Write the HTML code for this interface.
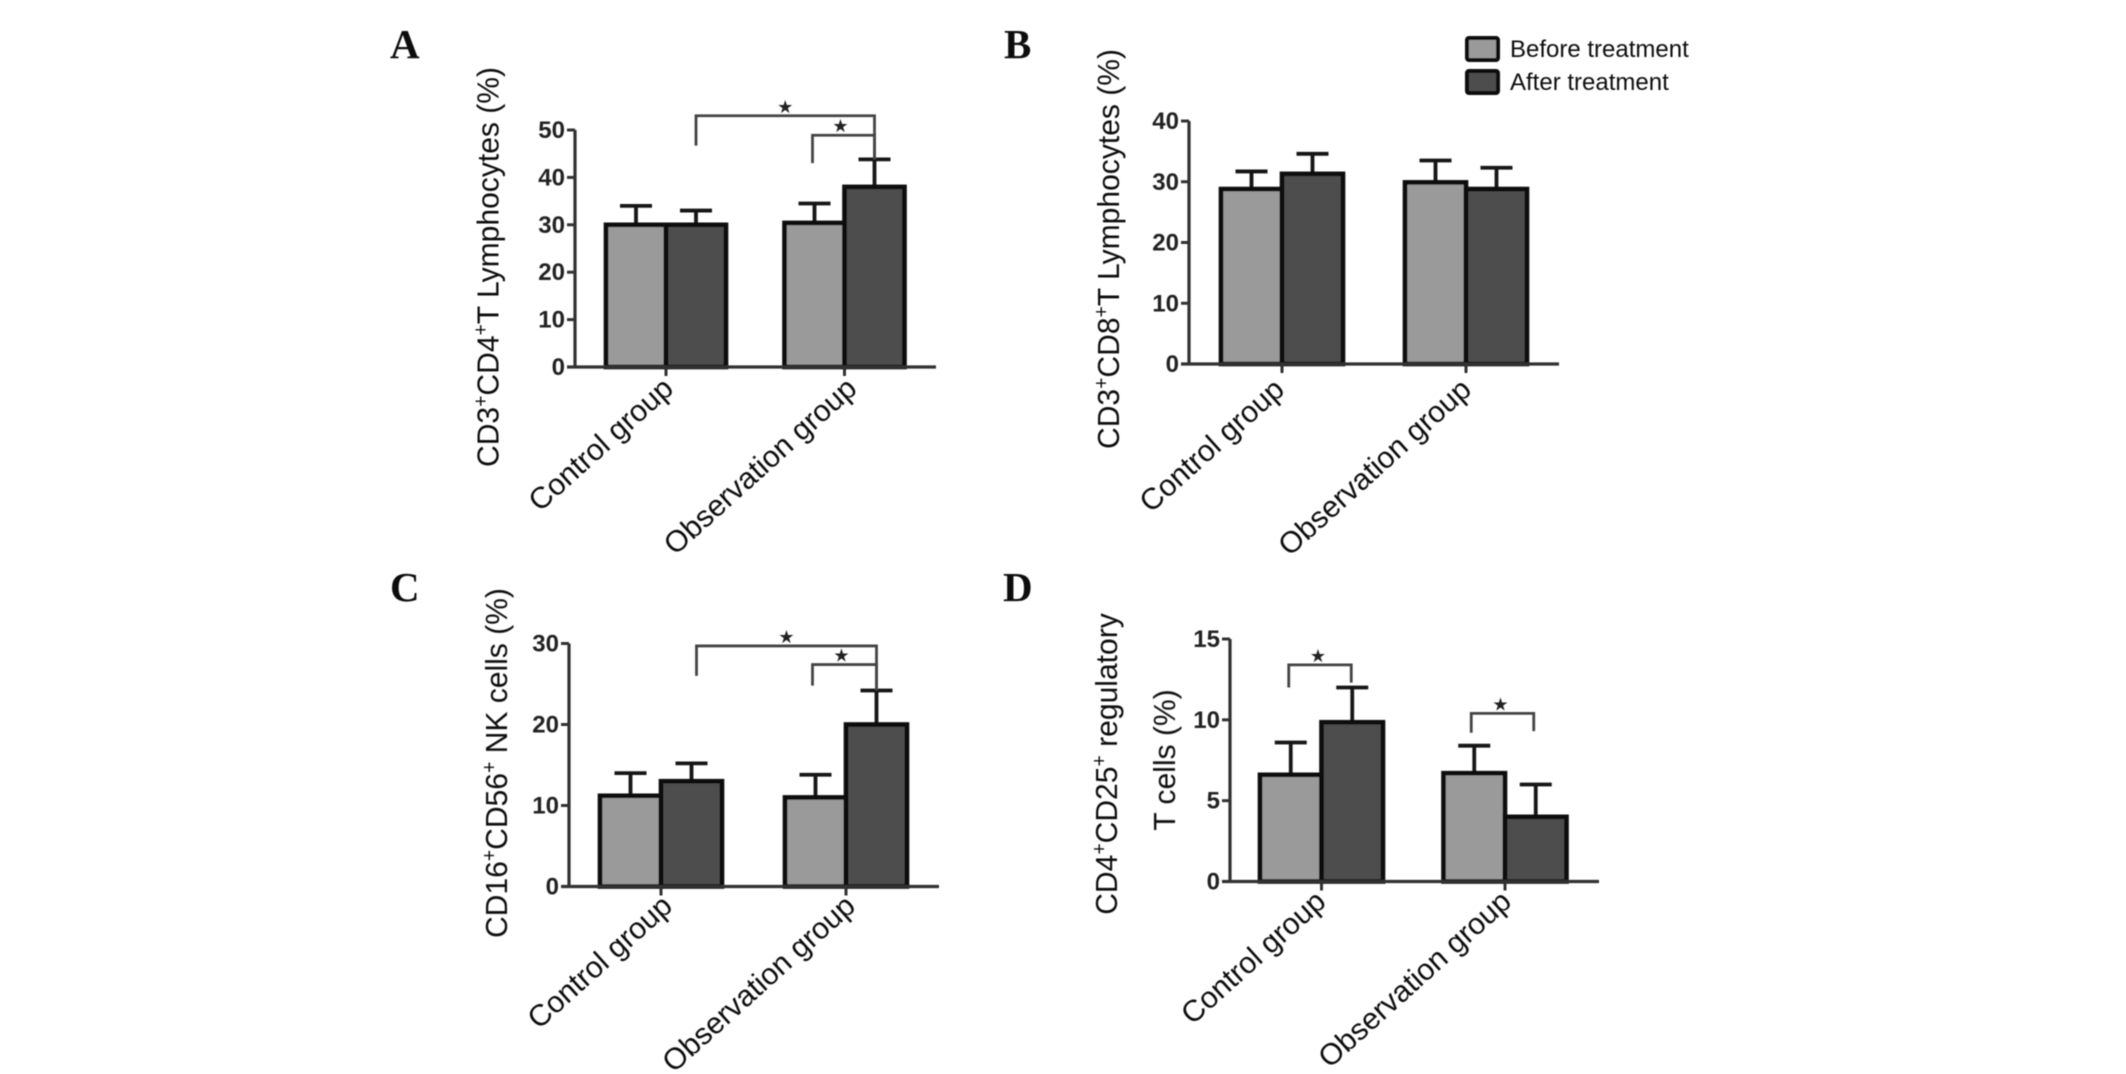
<!DOCTYPE html>
<html lang="en">
<head>
<meta charset="utf-8">
<title>T lymphocyte subsets before and after treatment</title>
<style>
html,body{margin:0;padding:0;background:#fff;width:2126px;height:1074px;overflow:hidden}
svg{display:block}
text{font-family:"Liberation Sans",sans-serif;fill:#111}
.letter{font-family:"Liberation Serif",serif;font-weight:bold;font-size:41px}
.ytitle{font-size:31px;text-anchor:middle}
.sup{font-size:20px}
.tick{font-weight:bold;font-size:24px;text-anchor:end;fill:#222}
.cat{font-size:30px;text-anchor:end}
.legend{font-size:24px}
.star{font-family:"DejaVu Sans",sans-serif;font-size:18px;text-anchor:middle;fill:#222}
</style>
</head>
<body>
<svg id="chart" xmlns="http://www.w3.org/2000/svg" width="2126" height="1074" viewBox="0 0 2126 1074">
<defs><filter id="soft" x="-5%" y="-5%" width="110%" height="110%"><feGaussianBlur stdDeviation="0.6"/></filter></defs>
<rect width="2126" height="1074" fill="#fff"/>
<g id="root" filter="url(#soft)">
  <text class="letter" x="390" y="58">A</text>
  <text class="letter" x="1004" y="58">B</text>
  <text class="letter" x="390" y="601">C</text>
  <text class="letter" x="1003" y="601">D</text>

  <text class="ytitle" transform="translate(498.5,267) rotate(-90) scale(0.97,1)">CD3<tspan class="sup" dy="-11">+</tspan><tspan dy="11">CD4</tspan><tspan class="sup" dy="-11">+</tspan><tspan dy="11">T Lymphocytes (%)</tspan></text>
  <text class="ytitle" transform="translate(1119,249) rotate(-90) scale(0.97,1)">CD3<tspan class="sup" dy="-11">+</tspan><tspan dy="11">CD8</tspan><tspan class="sup" dy="-11">+</tspan><tspan dy="11">T Lymphocytes (%)</tspan></text>
  <text class="ytitle" transform="translate(507,763) rotate(-90) scale(0.97,1)">CD16<tspan class="sup" dy="-11">+</tspan><tspan dy="11">CD56</tspan><tspan class="sup" dy="-11">+</tspan><tspan dy="11"> NK cells (%)</tspan></text>
  <text class="ytitle" transform="translate(1117,764) rotate(-90) scale(0.97,1)">CD4<tspan class="sup" dy="-11">+</tspan><tspan dy="11">CD25</tspan><tspan class="sup" dy="-11">+</tspan><tspan dy="11"> regulatory</tspan></text>
  <text class="ytitle" transform="translate(1175,760) rotate(-90) scale(0.97,1)">T cells (%)</text>

  <g>
    <rect x="1467" y="38" width="31" height="22" rx="2" fill="#9a9a9a" stroke="#111" stroke-width="4"/>
    <text class="legend" x="1510" y="57">Before treatment</text>
    <rect x="1467" y="71" width="31" height="22" rx="2" fill="#4d4d4d" stroke="#111" stroke-width="4"/>
    <text class="legend" x="1510" y="90">After treatment</text>
  </g>
</g>
</svg>
<script>
const categories = ['Control group', 'Observation group'];

const ticksA = [0, 10, 20, 30, 40, 50];
const beforeA = [30, 30.4];
const afterA = [30, 38];
const beforeErrTopA = [34, 34.5];
const afterErrTopA = [33, 43.8];
const sigLevelsA = [53, 48.9];
const sigLeftEndsA = [46.7, 43];
const sigRightEndsA = [43.8, 43.8];

const ticksB = [0, 10, 20, 30, 40];
const beforeB = [28.8, 29.9];
const afterB = [31.3, 28.8];
const beforeErrTopB = [31.7, 33.5];
const afterErrTopB = [34.6, 32.3];

const ticksC = [0, 10, 20, 30];
const beforeC = [11.2, 11];
const afterC = [13, 20];
const beforeErrTopC = [14, 13.8];
const afterErrTopC = [15.2, 24.2];
const sigLevelsC = [29.7, 27.4];
const sigLeftEndsC = [26, 24.8];
const sigRightEndsC = [24.2, 24.2];

const ticksD = [0, 5, 10, 15];
const beforeD = [6.6, 6.7];
const afterD = [9.85, 4];
const beforeErrTopD = [8.6, 8.4];
const afterErrTopD = [12, 6];
const sigLevelsD = [13.4, 10.4];
const sigLeftEndsD = [12, 9.2];
const sigRightEndsD = [12.3, 9.3];

const NS = 'http://www.w3.org/2000/svg';
const root = document.getElementById('root');
function mk(tag, attrs, parent) {
  const n = document.createElementNS(NS, tag);
  for (const k in attrs) n.setAttribute(k, attrs[k]);
  parent.appendChild(n);
  return n;
}

function drawPanel(p) {
  const g = mk('g', {}, root);
  
  
  const yMax = p.ticks[p.ticks.length - 1];
  const y = v => p.y0 - v * (p.y0 - p.yTop) / yMax;
  const groupX = i => p.center0 + i * p.step;
  const barLeft = (i, s) => groupX(i) + (s - 1) * p.barW;
  const barMid = (i, s) => barLeft(i, s) + p.barW / 2;
  const seriesVals = [p.before, p.after];
  const seriesErr = [p.beforeErr, p.afterErr];
  const seriesFill = ['#9a9a9a', '#4d4d4d'];
  const seriesName = ['before', 'after'];

  categories.forEach((c, i) => {
    [0, 1].forEach(s => {
      const stem = mk('path', {
        d: 'M' + barMid(i, s) + ' ' + y(seriesVals[s][i]) + 'V' + y(seriesErr[s][i]) + 'M' + (barMid(i, s) - 16) + ' ' + y(seriesErr[s][i]) + 'h32',
        stroke: '#151515', 'stroke-width': 3.8, fill: 'none'
      }, g);
      
      
    });
    [0, 1].forEach(s => {
      const bar = mk('rect', {
        x: barLeft(i, s), y: y(seriesVals[s][i]), width: p.barW, height: p.y0 - y(seriesVals[s][i]),
        fill: seriesFill[s], stroke: '#0a0a0a', 'stroke-width': 4.6
      }, g);
      
      
    });
    const tick = mk('path', {
      d: 'M' + groupX(i) + ' ' + p.y0 + 'v9', stroke: '#333', 'stroke-width': 3
    }, g);
    
    
    const off = p.catOff[i];
    const label = mk('text', {
      class: 'cat',
      transform: 'translate(' + (groupX(i) + off) + ',' + (p.y0 + p.catDy) + ') rotate(-42)'
    }, g);
    label.textContent = c;
    
    
  });

  const axis = mk('path', {
    d: 'M' + p.axisX + ' ' + y(yMax) + 'V' + p.y0 + 'M' + (p.axisX - 8) + ' ' + p.y0 + 'H' + p.xEnd,
    stroke: '#333', 'stroke-width': 3.2, fill: 'none'
  }, g);
  
  

  p.ticks.forEach(t => {
    const tm = mk('path', {
      d: 'M' + (p.axisX - 8) + ' ' + y(t) + 'H' + p.axisX, stroke: '#333', 'stroke-width': 3
    }, g);
    
    
    const tl = mk('text', { class: 'tick', x: p.axisX - 10, y: y(t) + 8 }, g);
    tl.textContent = t;
    
    
  });

  (p.sig || []).forEach((b, k) => {
    const x1 = barMid(b[0], b[1]) + p.sigNudge[k][0];
    const x2 = barMid(b[2], b[3]) + p.sigNudge[k][1];
    const br = mk('path', {
      d: 'M' + x1 + ' ' + y(p.sigLeft[k]) + 'V' + y(p.sigLevel[k]) + 'H' + x2 + 'V' + y(p.sigRight[k]),
      stroke: '#444', 'stroke-width': 2.8, fill: 'none'
    }, g);
    
    
    const st = mk('text', { class: 'star', x: (x1 + x2) / 2 + p.sigNudge[k][2], y: y(p.sigLevel[k]) - 3 }, g);
    st.textContent = '\u2605';
    
    
  });
}

drawPanel({ id: 'a', ticks: ticksA, before: beforeA, after: afterA, beforeErr: beforeErrTopA, afterErr: afterErrTopA,
  axisX: 575, y0: 367, yTop: 130, xEnd: 936, center0: 666, step: 178.5, barW: 60, catOff: [9, 14], catDy: 24,
  sig: [[0, 1, 1, 1], [1, 0, 1, 1]], sigNudge: [[0, 0, 0], [-2, 0, -3]],
  sigLevel: sigLevelsA, sigLeft: sigLeftEndsA, sigRight: sigRightEndsA });
drawPanel({ id: 'b', ticks: ticksB, before: beforeB, after: afterB, beforeErr: beforeErrTopB, afterErr: afterErrTopB,
  axisX: 1189, y0: 364, yTop: 121, xEnd: 1559, center0: 1282, step: 184, barW: 61, catOff: [4, 7], catDy: 28 });
drawPanel({ id: 'c', ticks: ticksC, before: beforeC, after: afterC, beforeErr: beforeErrTopC, afterErr: afterErrTopC,
  axisX: 569, y0: 886.5, yTop: 643.5, xEnd: 939, center0: 661, step: 185, barW: 61, catOff: [13, 11], catDy: 22,
  sig: [[0, 1, 1, 1], [1, 0, 1, 1]], sigNudge: [[5, 0, 0], [-3, 0, -3]],
  sigLevel: sigLevelsC, sigLeft: sigLeftEndsC, sigRight: sigRightEndsC });
drawPanel({ id: 'd', ticks: ticksD, before: beforeD, after: afterD, beforeErr: beforeErrTopD, afterErr: afterErrTopD,
  axisX: 1230, y0: 881.5, yTop: 639, xEnd: 1599, center0: 1321.5, step: 183.5, barW: 61.5, catOff: [6, 8], catDy: 22.5,
  sig: [[0, 0, 0, 1], [1, 0, 1, 1]], sigNudge: [[-2, -1, -2], [-3, -2, -2]],
  sigLevel: sigLevelsD, sigLeft: sigLeftEndsD, sigRight: sigRightEndsD });
</script>
</body>
</html>
